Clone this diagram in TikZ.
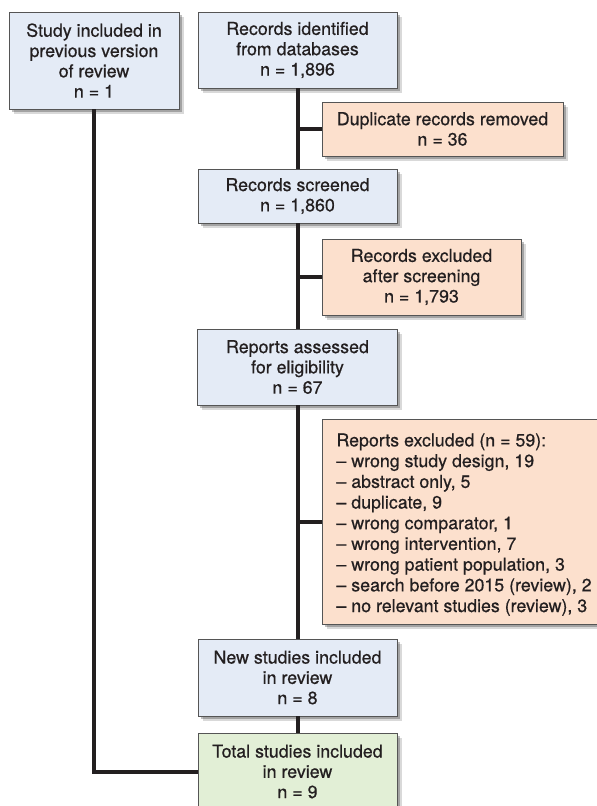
\documentclass[tikz,border=0pt]{standalone}
\usepackage{fontspec}
\setmainfont{TeX Gyre Heros}
\newfontfamily\boxfont[FakeBold=0.6]{TeX Gyre Heros}
\usetikzlibrary{shadows}
\definecolor{boxblue}{HTML}{E4EBF6}
\definecolor{boxpink}{HTML}{FCE0CD}
\definecolor{boxgreen}{HTML}{E2EFD6}
\definecolor{ink}{HTML}{231F20}
\definecolor{edgegray}{HTML}{555555}
\begin{document}
\begin{tikzpicture}[x=1pt,y=-1pt,
  box/.style={draw=edgegray, line width=0.9pt, text=ink, align=center, inner sep=0pt,
    font=\boxfont\fontsize{17.8}{20.3}\selectfont,
    drop shadow={shadow xshift=4.5pt, shadow yshift=-4.5pt, opacity=0.15, fill=black},
    drop shadow={shadow xshift=2.5pt, shadow yshift=-2.5pt, opacity=0.25, fill=black}},
  bluebox/.style={box, fill=boxblue},
  pinkbox/.style={box, fill=boxpink},
  greenbox/.style={box, fill=boxgreen},
  link/.style={draw=ink, line width=4pt}
]
\useasboundingbox (0,0) rectangle (597,806);

\node[bluebox, minimum width=170pt, minimum height=97pt] (A) at (94,60.5)
  {Study included in\\previous version\\of review\\n = 1};
\node[bluebox, minimum width=199pt, minimum height=76pt] (B) at (297.5,50)
  {Records identified\\from databases\\n = 1,896};
\node[pinkbox, minimum width=241pt, minimum height=54pt] (Dup) at (442.5,129)
  {Duplicate records removed\\n = 36};
\node[bluebox, minimum width=199pt, minimum height=54pt] (Scr) at (297.5,196)
  {Records screened\\n = 1,860};
\node[pinkbox, minimum width=199pt, minimum height=76pt] (Ex1) at (421.5,277)
  {Records excluded\\after screening\\n = 1,793};
\node[bluebox, minimum width=200pt, minimum height=76pt] (Ass) at (297.5,367)
  {Reports assessed\\for eligibility\\n = 67};
\node[pinkbox, anchor=north west, inner xsep=14pt, inner ysep=14pt, align=left] (Ex2) at (322,419)
  {\parbox[c][177pt][t]{265pt}{\raggedright\baselineskip=20.7pt
   Reports excluded (n = 59):\\
   \textendash{} wrong study design, 19\\
   \textendash{} abstract only, 5\\
   \textendash{} duplicate, 9\\
   \textendash{} wrong comparator, 1\\
   \textendash{} wrong intervention, 7\\
   \textendash{} wrong patient population, 3\\
   \textendash{} search before 2015 (review), 2\\
   \textendash{} no relevant studies (review), 3}};
\node[bluebox, minimum width=199pt, minimum height=77pt] (New) at (297.5,677.5)
  {New studies included\\in review\\n = 8};
\node[greenbox, minimum width=199pt, minimum height=77pt] (Tot) at (297.5,771.5)
  {Total studies included\\in review\\n = 9};

\draw[link] (B.south) -- (Scr.north);
\draw[link] (Scr.south) -- (Ass.north);
\draw[link] (Ass.south) -- (New.north);
\draw[link] (New.south) -- (Tot.north);
\draw[link] (Dup.west) -- (Dup.west -| B.south);
\draw[link] (Ex1.west) -- (Ex1.west -| Scr.south);
\draw[link] (Ex2.west) -- (Ex2.west -| Ass.south);
\draw[link] (A.south) |- (Tot.west);
\end{tikzpicture}
\end{document}
